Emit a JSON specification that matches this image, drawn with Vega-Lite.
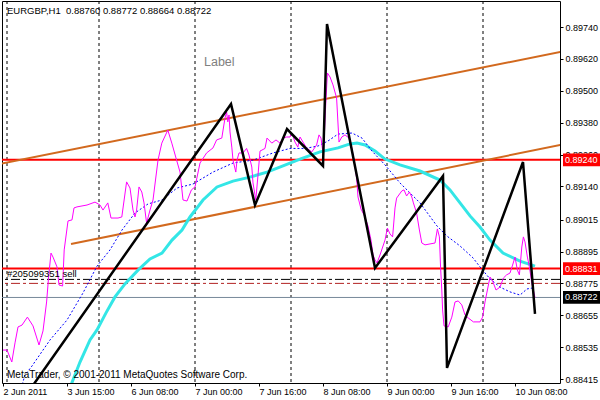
{
  "$schema": "https://vega.github.io/schema/vega-lite/v6.json",
  "width": 558,
  "height": 382,
  "autosize": {"type": "none"},
  "padding": {"left": 2, "top": 1, "right": 40, "bottom": 17},
  "background": "white",
  "config": {
    "view": {"stroke": "black", "strokeWidth": 1},
    "axis": {"labelFont": "Liberation Sans", "labelFontSize": 9, "labelColor": "black", "tickColor": "black", "domain": false, "grid": false, "labelOverlap": false, "labelFlush": false}
  },
  "datasets": {
    "midnights": [{"bar": 1}, {"bar": 24}, {"bar": 48}, {"bar": 72}, {"bar": 96}, {"bar": 120}],
    "price": [
      {"bar":0,"price":0.88524},{"bar":1,"price":0.88524},{"bar":2.2,"price":0.88479},{"bar":3,"price":0.88551},{"bar":3.75,"price":0.88611},{"bar":4.75,"price":0.88618},{"bar":6.1,"price":0.88648},{"bar":7.5,"price":0.88615},{"bar":9,"price":0.88543},{"bar":10,"price":0.88596},{"bar":10.9,"price":0.88705},{"bar":11.4,"price":0.88799},{"bar":12,"price":0.88889},{"bar":12.5,"price":0.88874},{"bar":13.5,"price":0.88837},{"bar":14,"price":0.88769},{"bar":14.9,"price":0.88765},{"bar":15.3,"price":0.88901},{"bar":16.25,"price":0.8901},{"bar":17.25,"price":0.89014},{"bar":17.75,"price":0.89059},{"bar":18.5,"price":0.89063},{"bar":21,"price":0.8907},{"bar":23,"price":0.89081},{"bar":24.25,"price":0.8907},{"bar":25,"price":0.89051},{"bar":26.2,"price":0.89078},{"bar":27,"price":0.89021},{"bar":28.75,"price":0.89021},{"bar":29.7,"price":0.89025},{"bar":30.9,"price":0.89157},{"bar":31.75,"price":0.89134},{"bar":32.5,"price":0.89051},{"bar":33,"price":0.89025},{"bar":33.4,"price":0.89051},{"bar":34,"price":0.89138},{"bar":34.7,"price":0.89119},{"bar":35.25,"price":0.89078},{"bar":35.9,"price":0.89002},{"bar":36.75,"price":0.89051},{"bar":37.5,"price":0.89089},{"bar":38.75,"price":0.89239},{"bar":39.7,"price":0.89303},{"bar":41.2,"price":0.89352},{"bar":42.2,"price":0.89303},{"bar":43.4,"price":0.89239},{"bar":44.25,"price":0.89194},{"bar":45,"price":0.89089},{"bar":46,"price":0.89085},{"bar":47.1,"price":0.89127},{"bar":48,"price":0.89138},{"bar":49.25,"price":0.89228},{"bar":50.9,"price":0.89266},{"bar":52.5,"price":0.89285},{"bar":53.4,"price":0.89315},{"bar":54.7,"price":0.89322},{"bar":55.5,"price":0.89398},{"bar":55.9,"price":0.8942},{"bar":56.2,"price":0.89383},{"bar":56.5,"price":0.89409},{"bar":56.75,"price":0.89345},{"bar":57.2,"price":0.89288},{"bar":57.5,"price":0.89239},{"bar":58.2,"price":0.89194},{"bar":58.5,"price":0.89239},{"bar":59,"price":0.89266},{"bar":60,"price":0.89266},{"bar":60.9,"price":0.89283},{"bar":61.5,"price":0.89258},{"bar":62.2,"price":0.89213},{"bar":62.5,"price":0.89153},{"bar":63.2,"price":0.89089},{"bar":63.75,"price":0.89183},{"bar":64.25,"price":0.89273},{"bar":65.5,"price":0.89283},{"bar":66,"price":0.89322},{"bar":67.2,"price":0.89303},{"bar":68.25,"price":0.89315},{"bar":69.25,"price":0.89303},{"bar":70,"price":0.89322},{"bar":70.9,"price":0.89326},{"bar":71.75,"price":0.89326},{"bar":72.2,"price":0.89341},{"bar":73,"price":0.89307},{"bar":73.7,"price":0.89288},{"bar":74.25,"price":0.89326},{"bar":75,"price":0.89307},{"bar":75.9,"price":0.89285},{"bar":77.2,"price":0.8927},{"bar":78.4,"price":0.89296},{"bar":79,"price":0.89334},{"bar":79.5,"price":0.89322},{"bar":79.9,"price":0.89277},{"bar":80.25,"price":0.89303},{"bar":80.7,"price":0.89454},{"bar":81.1,"price":0.89567},{"bar":81.75,"price":0.89552},{"bar":82.5,"price":0.89522},{"bar":83.4,"price":0.89473},{"bar":83.7,"price":0.8939},{"bar":84,"price":0.89307},{"bar":84.7,"price":0.89326},{"bar":85.5,"price":0.89334},{"bar":86.5,"price":0.89322},{"bar":87.2,"price":0.89285},{"bar":87.75,"price":0.89239},{"bar":88.4,"price":0.89172},{"bar":88.75,"price":0.891},{"bar":89.5,"price":0.89055},{"bar":90.5,"price":0.89025},{"bar":91.25,"price":0.88991},{"bar":92,"price":0.88938},{"bar":92.5,"price":0.88882},{"bar":93,"price":0.88863},{"bar":93.5,"price":0.88852},{"bar":94.25,"price":0.88882},{"bar":95.5,"price":0.88938},{"bar":96.1,"price":0.88983},{"bar":96.75,"price":0.88961},{"bar":97.4,"price":0.8895},{"bar":98,"price":0.89059},{"bar":98.4,"price":0.89096},{"bar":99.7,"price":0.89123},{"bar":100.25,"price":0.89127},{"bar":100.9,"price":0.89104},{"bar":101.6,"price":0.89119},{"bar":102.2,"price":0.891},{"bar":102.6,"price":0.89078},{"bar":103.4,"price":0.8904},{"bar":104.1,"price":0.88976},{"bar":104.7,"price":0.88927},{"bar":105.5,"price":0.8892},{"bar":108,"price":0.88927},{"bar":108.6,"price":0.8898},{"bar":109.1,"price":0.8895},{"bar":109.4,"price":0.88833},{"bar":109.7,"price":0.8875},{"bar":109.9,"price":0.88675},{"bar":110.25,"price":0.88615},{"bar":111.3,"price":0.88611},{"bar":112.2,"price":0.88648},{"bar":113,"price":0.88705},{"bar":113.8,"price":0.88709},{"bar":114.7,"price":0.88694},{"bar":115.5,"price":0.88656},{"bar":116.3,"price":0.88645},{"bar":117.6,"price":0.8863},{"bar":119.25,"price":0.8863},{"bar":119.9,"price":0.88648},{"bar":120.5,"price":0.88705},{"bar":121.1,"price":0.8875},{"bar":121.75,"price":0.88799},{"bar":122.4,"price":0.88784},{"bar":123.25,"price":0.8875},{"bar":124.25,"price":0.88761},{"bar":125.1,"price":0.88795},{"bar":125.9,"price":0.88807},{"bar":126.75,"price":0.88814},{"bar":127.4,"price":0.88844},{"bar":128,"price":0.88874},{"bar":128.6,"price":0.88825},{"bar":129.1,"price":0.88807},{"bar":129.7,"price":0.88912},{"bar":130.1,"price":0.8895},{"bar":130.5,"price":0.88931},{"bar":131.1,"price":0.88874},{"bar":131.6,"price":0.88837},{"bar":132.2,"price":0.88776},{"bar":133,"price":0.88722}
    ],
    "maSlow": [
      {"bar":15.75,"price":0.88344},{"bar":17,"price":0.88392},{"bar":19.25,"price":0.88479},{"bar":21.75,"price":0.88562},{"bar":23.5,"price":0.886},{"bar":25.75,"price":0.88664},{"bar":28,"price":0.88724},{"bar":30.5,"price":0.88773},{"bar":33.75,"price":0.88825},{"bar":36.75,"price":0.88867},{"bar":39.75,"price":0.88889},{"bar":42.25,"price":0.88938},{"bar":44.75,"price":0.88976},{"bar":46.75,"price":0.89025},{"bar":50,"price":0.89089},{"bar":53.5,"price":0.89138},{"bar":57.5,"price":0.8916},{"bar":61.75,"price":0.89175},{"bar":66,"price":0.89194},{"bar":70,"price":0.89217},{"bar":74.25,"price":0.89243},{"bar":79.25,"price":0.8927},{"bar":83.75,"price":0.89285},{"bar":86.75,"price":0.893},{"bar":88.5,"price":0.89303},{"bar":90.5,"price":0.89296},{"bar":93,"price":0.89273},{"bar":95.5,"price":0.89243},{"bar":99.25,"price":0.89221},{"bar":104.25,"price":0.89198},{"bar":109.25,"price":0.89164},{"bar":111.75,"price":0.89127},{"bar":114.25,"price":0.89078},{"bar":116.75,"price":0.89029},{"bar":119.25,"price":0.88987},{"bar":121.75,"price":0.88938},{"bar":125,"price":0.88889},{"bar":129.25,"price":0.88859},{"bar":133,"price":0.8884}
    ],
    "maFast": [
      {"bar":4.25,"price":0.88366},{"bar":5.5,"price":0.8843},{"bar":7.25,"price":0.88464},{"bar":11.75,"price":0.88562},{"bar":16,"price":0.88637},{"bar":20,"price":0.88739},{"bar":23.5,"price":0.8884},{"bar":26.75,"price":0.88901},{"bar":29.75,"price":0.88976},{"bar":33,"price":0.8904},{"bar":36.25,"price":0.89074},{"bar":39.75,"price":0.89089},{"bar":43.5,"price":0.89134},{"bar":47.5,"price":0.89149},{"bar":52.5,"price":0.89194},{"bar":57.5,"price":0.89228},{"bar":62.5,"price":0.89239},{"bar":67.5,"price":0.89266},{"bar":71.75,"price":0.89283},{"bar":75.5,"price":0.89283},{"bar":78.75,"price":0.89292},{"bar":81.25,"price":0.89311},{"bar":83.75,"price":0.89337},{"bar":87.25,"price":0.89341},{"bar":89.75,"price":0.89322},{"bar":92.25,"price":0.89273},{"bar":95.5,"price":0.89221},{"bar":99.25,"price":0.89153},{"bar":104.25,"price":0.89078},{"bar":108.5,"price":0.88991},{"bar":111,"price":0.88953},{"bar":114.25,"price":0.88916},{"bar":117.5,"price":0.88871},{"bar":119.25,"price":0.88837},{"bar":121.75,"price":0.88792},{"bar":124.25,"price":0.88761},{"bar":126.75,"price":0.88743},{"bar":129.25,"price":0.88731},{"bar":131,"price":0.88754},{"bar":132.5,"price":0.88758}
    ],
    "zigzag": [
      {"bar":0,"price":0.88231},{"bar":57,"price":0.8945},{"bar":63,"price":0.8907},{"bar":71,"price":0.89356},{"bar":80,"price":0.89217},{"bar":81,"price":0.89751},{"bar":93,"price":0.88833},{"bar":110,"price":0.89179},{"bar":111,"price":0.88457},{"bar":130,"price":0.89232},{"bar":133,"price":0.8866}
    ],
    "channel": [
      {"line":"upper","bar":-1,"price":0.89224},{"line":"upper","bar":140,"price":0.89648},
      {"line":"lower","bar":17,"price":0.88923},{"line":"lower","bar":140,"price":0.89298}
    ],
    "redLines": [{"price": 0.8924}, {"price": 0.88831}],
    "tags": [
      {"price":0.8924,"hi":0.89264,"lo":0.89216,"kind":"line"},
      {"price":0.88831,"hi":0.88855,"lo":0.88807,"kind":"line"},
      {"price":0.88722,"hi":0.88746,"lo":0.88698,"kind":"bid"}
    ]
  },
  "layer": [
    {
      "data": {"name": "midnights"},
      "mark": {"type": "rule", "color": "black", "strokeWidth": 1, "strokeDash": [3, 3]},
      "encoding": {
        "x": {"field": "bar", "type": "quantitative", "scale": {"domain": [-0.25, 139.25], "nice": false, "zero": false},
          "axis": {"title": null, "values": [0, 16, 32, 48, 64, 80, 96, 112, 128], "tickCount": 30, "labelAlign": "left", "tickSize": 3, "labelPadding": 1, "labelOverlap": false, "labelFlush": false,
            "labelExpr": "['2 Jun 2011','3 Jun 15:00','6 Jun 08:00','7 Jun 00:00','7 Jun 16:00','8 Jun 08:00','9 Jun 00:00','9 Jun 16:00','10 Jun 08:00'][round(datum.value/16)]"}}
      }
    },
    {
      "data": {"values": [{"price": 0.88722}]},
      "mark": {"type": "rule", "color": "#778899", "strokeWidth": 1},
      "encoding": {
        "y": {"field": "price", "type": "quantitative", "scale": {"domain": [0.884, 0.89838], "nice": false, "zero": false},
          "axis": {"title": null, "orient": "right", "values": [0.8974, 0.8962, 0.895, 0.8938, 0.8926, 0.8914, 0.89015, 0.88895, 0.88775, 0.88655, 0.88535, 0.88415], "tickCount": 30, "format": ".5f", "tickSize": 3, "labelPadding": 2, "labelOverlap": false, "labelFlush": false}}
      }
    },
    {
      "data": {"values": [{"price": 0.8879}]},
      "mark": {"type": "rule", "color": "black", "strokeWidth": 1, "strokeDash": [9, 3, 3, 3]},
      "encoding": {"y": {"field": "price", "type": "quantitative"}}
    },
    {
      "data": {"values": [{"price": 0.88775}]},
      "mark": {"type": "rule", "color": "#B22222", "strokeWidth": 1, "strokeDash": [9, 3, 3, 3]},
      "encoding": {"y": {"field": "price", "type": "quantitative"}}
    },
    {
      "data": {"name": "redLines"},
      "mark": {"type": "rule", "color": "#FF0000", "strokeWidth": 2},
      "encoding": {"y": {"field": "price", "type": "quantitative"}}
    },
    {
      "data": {"name": "channel"},
      "mark": {"type": "line", "color": "#D2691E", "strokeWidth": 2, "clip": true},
      "encoding": {
        "x": {"field": "bar", "type": "quantitative"},
        "y": {"field": "price", "type": "quantitative"},
        "detail": {"field": "line"}
      }
    },
    {
      "data": {"name": "maSlow"},
      "mark": {"type": "line", "color": "#33E6E6", "strokeWidth": 3, "clip": true},
      "encoding": {
        "x": {"field": "bar", "type": "quantitative"},
        "y": {"field": "price", "type": "quantitative"}
      }
    },
    {
      "data": {"name": "maFast"},
      "mark": {"type": "line", "color": "#0000FF", "strokeWidth": 1, "strokeDash": [2, 2], "clip": true},
      "encoding": {
        "x": {"field": "bar", "type": "quantitative"},
        "y": {"field": "price", "type": "quantitative"}
      }
    },
    {
      "data": {"name": "price"},
      "mark": {"type": "line", "color": "#FF00FF", "strokeWidth": 1, "clip": true},
      "encoding": {
        "x": {"field": "bar", "type": "quantitative"},
        "y": {"field": "price", "type": "quantitative"}
      }
    },
    {
      "data": {"name": "zigzag"},
      "mark": {"type": "line", "color": "black", "strokeWidth": 2.5, "clip": true},
      "encoding": {
        "x": {"field": "bar", "type": "quantitative"},
        "y": {"field": "price", "type": "quantitative"}
      }
    },
    {
      "data": {"name": "tags"},
      "mark": {"type": "rect"},
      "encoding": {
        "x": {"datum": 140},
        "x2": {"datum": 150},
        "y": {"field": "hi", "type": "quantitative"},
        "y2": {"field": "lo"},
        "color": {"field": "kind", "type": "nominal", "scale": {"domain": ["line", "bid"], "range": ["#FF0000", "#000000"]}, "legend": null}
      }
    },
    {
      "data": {"name": "tags"},
      "mark": {"type": "text", "align": "left", "baseline": "middle", "color": "white", "font": "Liberation Sans", "fontSize": 9},
      "encoding": {
        "x": {"datum": 140.5},
        "y": {"field": "price", "type": "quantitative"},
        "text": {"field": "price", "type": "quantitative", "format": ".5f"}
      }
    },
    {
      "data": {"values": [{"t": "EURGBP,H1\u00a0 0.88760 0.88772 0.88664 0.88722"}]},
      "mark": {"type": "text", "align": "left", "baseline": "middle", "color": "black", "font": "Liberation Sans", "fontSize": 9.5},
      "encoding": {"x": {"datum": 1}, "y": {"datum": 0.898}, "text": {"field": "t"}}
    },
    {
      "data": {"values": [{"t": "Label"}]},
      "mark": {"type": "text", "align": "left", "baseline": "middle", "color": "#808080", "font": "Liberation Sans", "fontSize": 12.5},
      "encoding": {"x": {"datum": 50.25}, "y": {"datum": 0.8961}, "text": {"field": "t"}}
    },
    {
      "data": {"values": [{"t": "#205099351 sell"}]},
      "mark": {"type": "text", "align": "left", "baseline": "middle", "color": "black", "font": "Liberation Sans", "fontSize": 9.5},
      "encoding": {"x": {"datum": 1}, "y": {"datum": 0.88812}, "text": {"field": "t"}}
    },
    {
      "data": {"values": [{"t": "MetaTrader, © 2001-2011 MetaQuotes Software Corp."}]},
      "mark": {"type": "text", "align": "left", "baseline": "middle", "color": "black", "font": "Liberation Sans", "fontSize": 10},
      "encoding": {"x": {"datum": 1}, "y": {"datum": 0.8843}, "text": {"field": "t"}}
    }
  ]
}
